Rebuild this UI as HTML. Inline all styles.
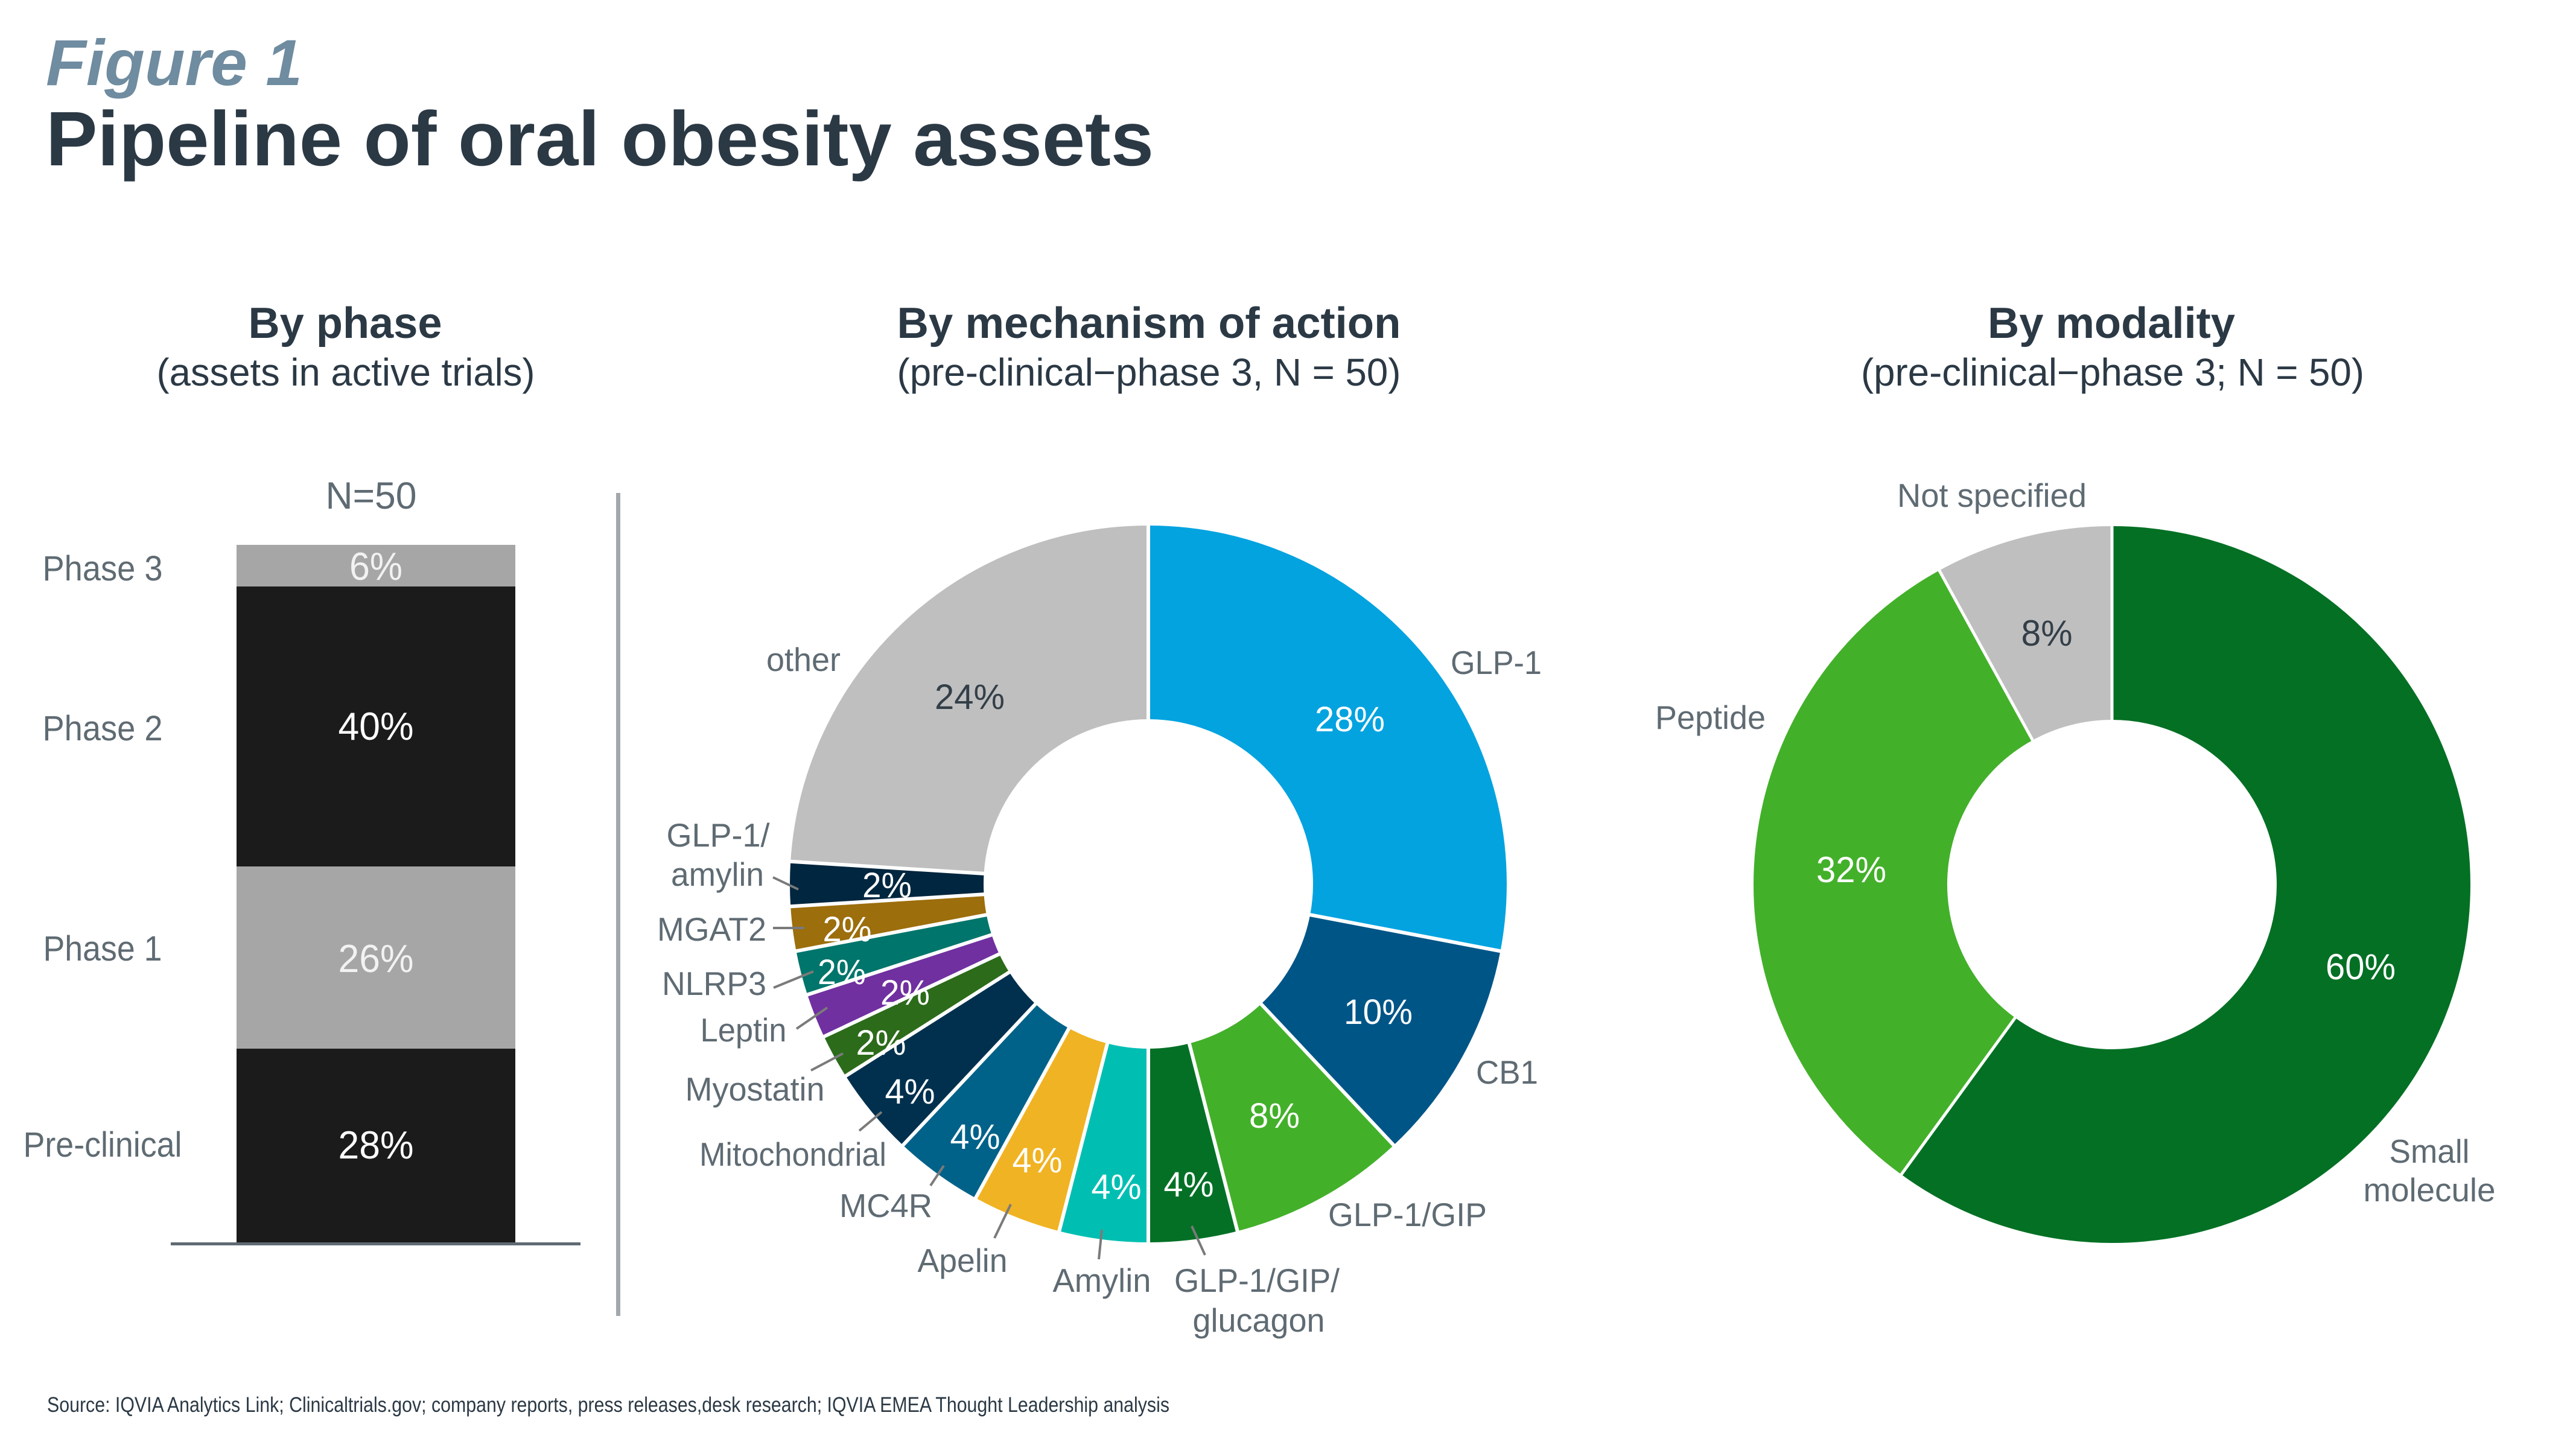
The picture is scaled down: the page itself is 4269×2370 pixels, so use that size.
<!DOCTYPE html>
<html>
<head>
<meta charset="utf-8">
<style>
html,body{margin:0;padding:0;background:#fff;}
svg{display:block;}
text{font-family:"Liberation Sans",Arial,Helvetica,sans-serif;}
</style>
</head>
<body>
<svg width="4269" height="2370" viewBox="0 0 4269 2370" xmlns="http://www.w3.org/2000/svg">
<rect x="0" y="0" width="4269" height="2370" fill="#ffffff"/>

<!-- Titles -->
<text x="76" y="141" font-size="108" font-weight="bold" font-style="italic" fill="#6f8ca0" textLength="425" lengthAdjust="spacingAndGlyphs">Figure 1</text>
<text x="76" y="274" font-size="128" font-weight="bold" fill="#2b3945" textLength="1836" lengthAdjust="spacingAndGlyphs">Pipeline of oral obesity assets</text>

<!-- Section headings -->
<g fill="#2b3945" text-anchor="middle">
<text x="572" y="560" font-size="72" font-weight="bold" textLength="321" lengthAdjust="spacingAndGlyphs">By phase</text>
<text x="573" y="639" font-size="64" textLength="627" lengthAdjust="spacingAndGlyphs">(assets in active trials)</text>
<text x="1904" y="560" font-size="72" font-weight="bold" textLength="835" lengthAdjust="spacingAndGlyphs">By mechanism of action</text>
<text x="1904" y="639" font-size="64" textLength="835" lengthAdjust="spacingAndGlyphs">(pre-clinical−phase 3, N = 50)</text>
<text x="3499" y="560" font-size="72" font-weight="bold" textLength="410" lengthAdjust="spacingAndGlyphs">By modality</text>
<text x="3501" y="639" font-size="64" textLength="834" lengthAdjust="spacingAndGlyphs">(pre-clinical−phase 3; N = 50)</text>
</g>

<!-- Bar chart -->
<rect x="392" y="903" width="462" height="69" fill="#a6a6a6"/>
<rect x="392" y="972" width="462" height="464" fill="#1b1b1b"/>
<rect x="392" y="1436" width="462" height="302" fill="#a6a6a6"/>
<rect x="392" y="1738" width="462" height="323" fill="#1b1b1b"/>
<rect x="283" y="2059" width="679" height="5" fill="#5f6b73"/>
<text x="615" y="843" font-size="63" fill="#5f6b73" text-anchor="middle" textLength="151" lengthAdjust="spacingAndGlyphs">N=50</text>
<g fill="#5f6b73" font-size="58" text-anchor="middle">
<text x="170" y="962" textLength="199" lengthAdjust="spacingAndGlyphs">Phase 3</text>
<text x="170" y="1227" textLength="199" lengthAdjust="spacingAndGlyphs">Phase 2</text>
<text x="170" y="1592" textLength="197" lengthAdjust="spacingAndGlyphs">Phase 1</text>
<text x="170" y="1917" textLength="263" lengthAdjust="spacingAndGlyphs">Pre-clinical</text>
</g>
<g font-size="65" text-anchor="middle">
<text x="623" y="961" fill="#f2f2f2" textLength="88" lengthAdjust="spacingAndGlyphs">6%</text>
<text x="623" y="1226" fill="#ffffff" textLength="125" lengthAdjust="spacingAndGlyphs">40%</text>
<text x="623" y="1611" fill="#f2f2f2" textLength="125" lengthAdjust="spacingAndGlyphs">26%</text>
<text x="623" y="1920" fill="#ffffff" textLength="125" lengthAdjust="spacingAndGlyphs">28%</text>
</g>

<!-- Divider -->
<rect x="1021" y="817" width="7" height="1364" fill="#a2a8ad"/>

<!-- Middle donut -->
<g transform="translate(1903,1465)">
<g fill="none" stroke-width="321">
<circle r="433.5" stroke="#03a3e0" stroke-dasharray="762.65 3000" transform="rotate(-90)"/>
<circle r="433.5" stroke="#005587" stroke-dasharray="272.38 3000" transform="rotate(10.8)"/>
<circle r="433.5" stroke="#43b02a" stroke-dasharray="217.90 3000" transform="rotate(46.8)"/>
<circle r="433.5" stroke="#037026" stroke-dasharray="108.95 3000" transform="rotate(75.6)"/>
<circle r="433.5" stroke="#00bfb2" stroke-dasharray="108.95 3000" transform="rotate(90)"/>
<circle r="433.5" stroke="#f0b323" stroke-dasharray="108.95 3000" transform="rotate(104.4)"/>
<circle r="433.5" stroke="#006289" stroke-dasharray="108.95 3000" transform="rotate(118.8)"/>
<circle r="433.5" stroke="#00304e" stroke-dasharray="108.95 3000" transform="rotate(133.2)"/>
<circle r="433.5" stroke="#2c6b1a" stroke-dasharray="54.48 3000" transform="rotate(147.6)"/>
<circle r="433.5" stroke="#7030a0" stroke-dasharray="54.48 3000" transform="rotate(154.8)"/>
<circle r="433.5" stroke="#00756b" stroke-dasharray="54.48 3000" transform="rotate(162)"/>
<circle r="433.5" stroke="#9c6e0c" stroke-dasharray="54.48 3000" transform="rotate(169.2)"/>
<circle r="433.5" stroke="#01263f" stroke-dasharray="54.48 3000" transform="rotate(176.4)"/>
<circle r="433.5" stroke="#bfbfbf" stroke-dasharray="653.70 3000" transform="rotate(183.6)"/>
</g>
<g stroke="#ffffff" stroke-width="6">
<line x1="0" y1="-268" x2="0" y2="-600" transform="rotate(0)"/>
<line x1="0" y1="-268" x2="0" y2="-600" transform="rotate(100.8)"/>
<line x1="0" y1="-268" x2="0" y2="-600" transform="rotate(136.8)"/>
<line x1="0" y1="-268" x2="0" y2="-600" transform="rotate(165.6)"/>
<line x1="0" y1="-268" x2="0" y2="-600" transform="rotate(180)"/>
<line x1="0" y1="-268" x2="0" y2="-600" transform="rotate(194.4)"/>
<line x1="0" y1="-268" x2="0" y2="-600" transform="rotate(208.8)"/>
<line x1="0" y1="-268" x2="0" y2="-600" transform="rotate(223.2)"/>
<line x1="0" y1="-268" x2="0" y2="-600" transform="rotate(237.6)"/>
<line x1="0" y1="-268" x2="0" y2="-600" transform="rotate(244.8)"/>
<line x1="0" y1="-268" x2="0" y2="-600" transform="rotate(252)"/>
<line x1="0" y1="-268" x2="0" y2="-600" transform="rotate(259.2)"/>
<line x1="0" y1="-268" x2="0" y2="-600" transform="rotate(266.4)"/>
<line x1="0" y1="-268" x2="0" y2="-600" transform="rotate(273.6)"/>
</g>
</g>

<!-- Middle percentages -->
<g font-size="58" text-anchor="middle" fill="#ffffff">
<text x="1607" y="1175" fill="#333f48" textLength="116" lengthAdjust="spacingAndGlyphs">24%</text>
<text x="2237" y="1212" textLength="116" lengthAdjust="spacingAndGlyphs">28%</text>
<text x="2284" y="1697" textLength="114" lengthAdjust="spacingAndGlyphs">10%</text>
<text x="2112" y="1869" textLength="84" lengthAdjust="spacingAndGlyphs">8%</text>
<text x="1970" y="1983" textLength="83" lengthAdjust="spacingAndGlyphs">4%</text>
<text x="1850" y="1987" textLength="83" lengthAdjust="spacingAndGlyphs">4%</text>
<text x="1719" y="1943" textLength="83" lengthAdjust="spacingAndGlyphs">4%</text>
<text x="1616" y="1904" textLength="83" lengthAdjust="spacingAndGlyphs">4%</text>
<text x="1508" y="1829" textLength="83" lengthAdjust="spacingAndGlyphs">4%</text>
<text x="1460" y="1748" textLength="83" lengthAdjust="spacingAndGlyphs">2%</text>
<text x="1500" y="1665" textLength="82" lengthAdjust="spacingAndGlyphs">2%</text>
<text x="1395" y="1631" textLength="80" lengthAdjust="spacingAndGlyphs">2%</text>
<text x="1404" y="1560" textLength="81" lengthAdjust="spacingAndGlyphs">2%</text>
<text x="1470" y="1487" textLength="82" lengthAdjust="spacingAndGlyphs">2%</text>
</g>

<!-- Leader lines -->
<g stroke="#7a7a7a" stroke-width="4">
<line x1="1281" y1="1454" x2="1323" y2="1474"/>
<line x1="1281" y1="1538" x2="1333" y2="1538"/>
<line x1="1282" y1="1637" x2="1348" y2="1610"/>
<line x1="1320" y1="1705" x2="1371" y2="1670"/>
<line x1="1344" y1="1774" x2="1397" y2="1746"/>
<line x1="1424" y1="1874" x2="1461" y2="1843"/>
<line x1="1542" y1="1965" x2="1564" y2="1932"/>
<line x1="1648" y1="2052" x2="1675" y2="1996"/>
<line x1="1821" y1="2087" x2="1826" y2="2038"/>
<line x1="1997" y1="2080" x2="1975" y2="2032"/>
</g>

<!-- Middle labels -->
<g font-size="55" fill="#5f6b73">
<text x="1393" y="1112" text-anchor="end" textLength="123" lengthAdjust="spacingAndGlyphs">other</text>
<text x="2404" y="1117" textLength="151" lengthAdjust="spacingAndGlyphs">GLP-1</text>
<text x="2446" y="1796" textLength="103" lengthAdjust="spacingAndGlyphs">CB1</text>
<text x="2201" y="2032" textLength="263" lengthAdjust="spacingAndGlyphs">GLP-1/GIP</text>
<text x="2083" y="2141" text-anchor="middle" textLength="274" lengthAdjust="spacingAndGlyphs">GLP-1/GIP/</text>
<text x="2086" y="2207" text-anchor="middle" textLength="219" lengthAdjust="spacingAndGlyphs">glucagon</text>
<text x="1826" y="2141" text-anchor="middle" textLength="163" lengthAdjust="spacingAndGlyphs">Amylin</text>
<text x="1595" y="2108" text-anchor="middle" textLength="149" lengthAdjust="spacingAndGlyphs">Apelin</text>
<text x="1468" y="2017" text-anchor="middle" textLength="154" lengthAdjust="spacingAndGlyphs">MC4R</text>
<text x="1469" y="1932" text-anchor="end" textLength="310" lengthAdjust="spacingAndGlyphs">Mitochondrial</text>
<text x="1251" y="1824" text-anchor="middle" textLength="231" lengthAdjust="spacingAndGlyphs">Myostatin</text>
<text x="1232" y="1726" text-anchor="middle" textLength="143" lengthAdjust="spacingAndGlyphs">Leptin</text>
<text x="1270" y="1649" text-anchor="end" textLength="173" lengthAdjust="spacingAndGlyphs">NLRP3</text>
<text x="1270" y="1559" text-anchor="end" textLength="181" lengthAdjust="spacingAndGlyphs">MGAT2</text>
<text x="1190" y="1403" text-anchor="middle" textLength="171" lengthAdjust="spacingAndGlyphs">GLP-1/</text>
<text x="1189" y="1468" text-anchor="middle" textLength="154" lengthAdjust="spacingAndGlyphs">amylin</text>
</g>

<!-- Right donut -->
<g transform="translate(3500,1466)">
<g fill="none" stroke-width="321">
<circle r="433.5" stroke="#037024" stroke-dasharray="1634.26 3000" transform="rotate(-90)"/>
<circle r="433.5" stroke="#43b02a" stroke-dasharray="871.60 3000" transform="rotate(126)"/>
<circle r="433.5" stroke="#bfbfbf" stroke-dasharray="217.90 3000" transform="rotate(241.2)"/>
</g>
<g stroke="#ffffff" stroke-width="5">
<line x1="0" y1="-268" x2="0" y2="-600" transform="rotate(0)"/>
<line x1="0" y1="-268" x2="0" y2="-600" transform="rotate(216)"/>
<line x1="0" y1="-268" x2="0" y2="-600" transform="rotate(331.2)"/>
</g>
</g>
<g font-size="60" text-anchor="middle" fill="#ffffff">
<text x="3392" y="1070" fill="#333f48" textLength="85" lengthAdjust="spacingAndGlyphs">8%</text>
<text x="3068" y="1462" textLength="116" lengthAdjust="spacingAndGlyphs">32%</text>
<text x="3912" y="1623" textLength="116" lengthAdjust="spacingAndGlyphs">60%</text>
</g>
<g font-size="55" fill="#5f6b73" text-anchor="middle">
<text x="3301" y="840" textLength="314" lengthAdjust="spacingAndGlyphs">Not specified</text>
<text x="2926" y="1208" text-anchor="end" textLength="183" lengthAdjust="spacingAndGlyphs">Peptide</text>
<text x="4026" y="1927" textLength="133" lengthAdjust="spacingAndGlyphs">Small</text>
<text x="4026" y="1991" textLength="219" lengthAdjust="spacingAndGlyphs">molecule</text>
</g>

<!-- Footer -->
<text x="78" y="2340" font-size="35" fill="#2b3945" textLength="1860" lengthAdjust="spacingAndGlyphs">Source: IQVIA Analytics Link; Clinicaltrials.gov; company reports, press releases,desk research; IQVIA EMEA Thought Leadership analysis</text>
</svg>
</body>
</html>
